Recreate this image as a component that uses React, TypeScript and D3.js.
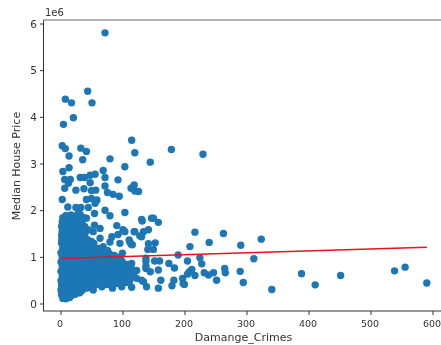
import React from "react";
import * as d3 from "d3";

type P = [number, number];

// Damange_Crimes, Median House Price (in millions)
const outliers: P[] = [[71,5.81],[43,4.56],[7,4.39],[17,4.31],[50,4.31],[20,3.99],[4,3.85],[2,3.39],[7,3.33],[32,3.34],[41,3.27],[13,3.17],[35,3.09],[79,3.11],[114,3.51],[119,3.24],[178,3.31],[229,3.21],[144,3.04],[103,2.94],[68,2.86],[13,2.92],[3,2.84]];
const upperCloud: P[] = [[71,2.71],[92,2.66],[6,2.67],[15,2.67],[12,2.59],[31,2.71],[38,2.71],[47,2.76],[55,2.78],[47,2.6],[71,2.53],[75,2.39],[84,2.35],[94,2.31],[118,2.55],[113,2.48],[119,2.42],[125,2.41],[6,2.48],[24,2.44],[37,2.47],[49,2.43],[56,2.44],[2,2.24],[41,2.24],[49,2.26],[58,2.23],[55,2.16],[11,2.08],[24,2.07],[32,2.07],[44,2.07],[71,2.01],[103,1.96],[54,1.94],[79,1.89],[28,1.94],[130,1.81],[146,1.84],[41,1.84],[90,1.68]];
const middleCloud: P[] = [[131,1.78],[149,1.84],[157,1.75],[118,1.55],[141,1.59],[133,1.55],[127,1.46],[103,1.55],[110,1.37],[113,1.28],[152,1.31],[141,1.29],[149,1.17],[140,1.17],[54,1.69],[63,1.62],[52,1.55],[100,1.59],[92,1.49],[82,1.44],[68,1.23],[79,1.33],[95,1.3],[111,1.33],[115,1.27],[99,1.09],[63,1.41],[44,1.59],[119,1.55],[130,1.44]];
const rightTail: P[] = [[216,1.54],[239,1.32],[208,1.23],[189,1.05],[224,.99],[204,.92],[227,.86],[262,1.51],[290,1.26],[323,1.39],[311,.97],[264,.76],[265,.67],[289,.70],[294,.46],[340,.31],[388,.65],[410,.41],[451,.61],[538,.71],[555,.79],[590,.45],[137,.98],[137,.91],[151,.92],[159,.92],[174,.87],[183,.77],[137,.76],[157,.73],[144,.69],[161,.51],[182,.51],[179,.39],[157,.34],[138,.37],[130,.51],[114,.36],[199,.42],[196,.55],[204,.64],[211,.74],[207,.69],[216,.61],[231,.67],[238,.62],[246,.67],[251,.51],[114,.87],[109,.77],[116,.73],[122,.55],[106,.62],[111,.5],[106,.46],[197,.44],[98,.37],[83,.34],[66,.37],[52,.3],[31,.26],[117,.62],[122,.72],[133,.48],[137,.81]];
const denseCore: P[] = [
[3,.12],[8,.11],[14,.14],[1,.2],[6,.19],[11,.22],[17,.18],[23,.21],[30,.24],
[0,.3],[4,.31],[9,.28],[15,.32],[21,.3],[27,.33],[34,.29],[41,.34],[46,.36],
[1,.4],[7,.42],[12,.39],[18,.41],[25,.38],[32,.43],[38,.4],[47,.44],[56,.41],[62,.47],[75,.42],[85,.45],[97,.44],
[0,.5],[5,.52],[10,.49],[16,.51],[22,.48],[29,.53],[36,.5],[43,.49],[50,.54],[58,.52],[66,.5],[72,.55],[81,.52],[90,.5],[100,.55],
[2,.6],[8,.62],[14,.59],[20,.61],[27,.58],[34,.63],[40,.6],[48,.62],[55,.59],[63,.61],[70,.64],[78,.6],[87,.62],[95,.6],
[0,.7],[5,.72],[11,.69],[17,.71],[24,.68],[31,.73],[38,.7],[45,.72],[52,.69],[60,.71],[68,.74],[75,.7],[83,.72],[92,.7],[99,.73],
[2,.8],[8,.82],[14,.79],[21,.81],[28,.78],[35,.83],[42,.8],[49,.82],[57,.79],[64,.81],[72,.84],[80,.8],[88,.82],[96,.8],[104,.83],
[0,.9],[5,.92],[11,.89],[18,.91],[25,.88],[32,.93],[39,.9],[46,.92],[54,.89],[61,.91],[69,.94],[77,.9],[85,.92],[93,.9],
[2,1.0],[8,1.02],[15,.99],[22,1.01],[29,.98],[36,1.03],[43,1.0],[50,1.02],[58,.99],[66,1.01],[74,1.03],[82,1.0],[91,.98],
[0,1.1],[6,1.12],[12,1.09],[19,1.11],[26,1.08],[33,1.13],[40,1.1],[47,1.12],[55,1.09],[63,1.11],[71,1.13],[78,1.08],
[3,1.2],[9,1.22],[16,1.19],[23,1.21],[30,1.18],[37,1.23],[44,1.2],[52,1.22],[60,1.19],
[1,1.3],[7,1.32],[13,1.29],[20,1.31],[27,1.28],[34,1.33],[41,1.3],[49,1.34],
[4,1.4],[10,1.42],[17,1.39],[24,1.41],[31,1.38],[38,1.43],
[2,1.5],[8,1.52],[14,1.49],[21,1.51],[28,1.48],[35,1.53],
[5,1.6],[11,1.62],[18,1.59],[25,1.61],[32,1.58],
[3,1.7],[9,1.72],[16,1.69],[23,1.71],[30,1.68],[38,1.66],
[6,1.8],[13,1.82],[20,1.79],[27,1.81],[34,1.78],
[8,1.9],[16,1.91],[24,1.89],[31,1.92]
];
const coreFill: P[] = [
[5,.26],[12,.3],[19,.25],[26,.27],[37,.35],[44,.42],[53,.46],[60,.54],[69,.57],[78,.51],[86,.54],[94,.56],
[3,.35],[10,.36],[16,.37],[23,.35],[30,.36],[36,.44],[42,.45],[52,.51],[76,.56],[84,.6],[91,.62],[100,.64],[108,.68],
[3,.45],[8,.46],[13,.45],[20,.44],[27,.45],[33,.48],[40,.54],[46,.56],[54,.6],[61,.64],[67,.66],[74,.64],[81,.66],[89,.68],[96,.7],
[3,.55],[8,.56],[13,.54],[19,.55],[25,.54],[31,.58],[37,.6],[44,.66],[50,.66],[57,.66],[64,.68],[71,.72],[79,.74],[86,.76],[94,.78],[101,.78],
[3,.65],[8,.67],[14,.65],[21,.66],[28,.65],[34,.68],[41,.74],[48,.76],[55,.76],[62,.78],[68,.8],[76,.82],[84,.86],[91,.86],[99,.9],
[3,.76],[8,.76],[14,.75],[20,.76],[26,.74],[32,.78],[38,.84],[44,.86],[51,.88],[58,.86],[65,.9],[73,.92],[81,.96],[88,.97],
[3,.86],[8,.87],[15,.85],[22,.86],[29,.85],[35,.88],[42,.95],[48,.97],[55,.96],[62,.97],[70,1.0],[78,1.04],[86,1.04],
[3,.96],[8,.97],[13,.95],[19,.96],[26,.95],[32,.98],[38,1.06],[44,1.06],[52,1.06],[59,1.06],[67,1.07],[74,1.09],
[3,1.06],[9,1.07],[16,1.05],[23,1.06],[29,1.06],[35,1.1],[41,1.16],[48,1.17],[56,1.16],[64,1.18],
[3,1.15],[9,1.16],[15,1.15],[21,1.16],[27,1.15],[33,1.18],[38,1.27],[45,1.27],[53,1.3],
[4,1.26],[10,1.27],[17,1.25],[23,1.27],[30,1.26],[35,1.38],[43,1.38],
[1,1.36],[7,1.37],[14,1.35],[21,1.36],[27,1.36],[34,1.46],[39,1.52],
[1,1.46],[6,1.46],[11,1.47],[18,1.45],[25,1.46],[31,1.46],
[2,1.56],[8,1.57],[15,1.55],[22,1.56],[28,1.55],[35,1.62],
[1,1.66],[7,1.66],[13,1.65],[20,1.65],[27,1.64],[34,1.7],
[2,1.76],[6,1.74],[12,1.76],[19,1.75],[25,1.74],[31,1.75],[37,1.85],
[3,1.85],[10,1.86],[17,1.85],[24,1.85],[30,1.85]
];
const coreRightFill: P[] = [
[40,.39],[50,.42],[58,.46],[68,.45],[80,.44],[91,.44],[102,.47],
[38,.47],[47,.5],[55,.5],[64,.53],[74,.49],[83,.56],[92,.57],[104,.59],
[43,.56],[51,.58],[59,.59],[66,.6],[73,.6],[81,.59],[89,.57],[98,.66],[110,.72],
[36,.66],[47,.67],[53,.72],[58,.75],[66,.72],[73,.77],[80,.7],[88,.74],[97,.76],[105,.73],
[42,.77],[49,.72],[56,.83],[65,.8],[71,.8],[78,.86],[86,.8],[93,.83],[101,.86],[108,.85],
[36,.92],[43,.9],[50,.86],[58,.92],[67,.86],[74,.96],[81,.88],[90,.93],[97,.94],
[40,1.0],[47,1.02],[54,1.02],[62,1.03],[70,1.06],[79,.94],[87,.98],[94,1.0],
[37,1.14],[44,1.13],[51,1.14],[59,1.13],[67,1.14],[75,1.15]
];
const fitX = [0, 590];
const fitY = [0.975, 1.215];
const xTicks = [0, 100, 200, 300, 400, 500, 600];
const yTicks = [0, 1, 2, 3, 4, 5, 6];

const points = [...outliers, ...upperCloud, ...middleCloud, ...rightTail, ...denseCore, ...coreFill, ...coreRightFill];
const ink = "#333";

export default function App() {
  const x = d3.scaleLinear().domain([0, 600]).range([61, 433]);
  const y = d3.scaleLinear().domain([0, 6]).range([304, 24]);
  const line = d3.line<number>().x((d) => x(d)).y((_, i) => y(fitY[i]));
  const font = "'DejaVu Sans', sans-serif";
  return (
    <svg width={441} height={345} style={{ position: "absolute", left: 0, top: 0 }} fontFamily={font}>
      <defs>
        <filter id="soft" x="-5%" y="-5%" width="110%" height="110%">
          <feGaussianBlur stdDeviation="0.5" />
        </filter>
      </defs>
      <rect width={441} height={345} fill="#fff" />
      <g filter="url(#soft)">
        {points.map((d, i) => (
          <circle key={i} cx={x(d[0])} cy={y(d[1])} r={3.7} fill="#1f77b4" />
        ))}
        <path d={line(fitX) ?? ""} stroke="#e8141c" strokeWidth={1.5} fill="none" />
        <line x1={43.5} x2={43.5} y1={20} y2={311} stroke={ink} />
        <line x1={43} x2={441} y1={311} y2={311} stroke={ink} />
        <line x1={43} x2={441} y1={20} y2={20} stroke="#999" strokeWidth={1.6} />
        {xTicks.map((t) => (
          <g key={t}>
            <line x1={x(t)} x2={x(t)} y1={311} y2={315} stroke={ink} />
            <text x={x(t) - 1} y={327} textAnchor="middle" fontSize={9.5} fill={ink}>{t}</text>
          </g>
        ))}
        {yTicks.map((t) => (
          <g key={t}>
            <line x1={40} x2={43} y1={y(t)} y2={y(t)} stroke={ink} />
            <text x={37} y={y(t) + 3.8} textAnchor="end" fontSize={10.5} fill={ink}>{t}</text>
          </g>
        ))}
        <text x={45} y={16} fontSize={10} fill={ink}>1e6</text>
        <text x={243.5} y={341} textAnchor="middle" fontSize={11} fill={ink}>Damange_Crimes</text>
        <text transform="translate(20,166) rotate(-90)" textAnchor="middle" fontSize={11} fill={ink}>Median House Price</text>
      </g>
    </svg>
  );
}
